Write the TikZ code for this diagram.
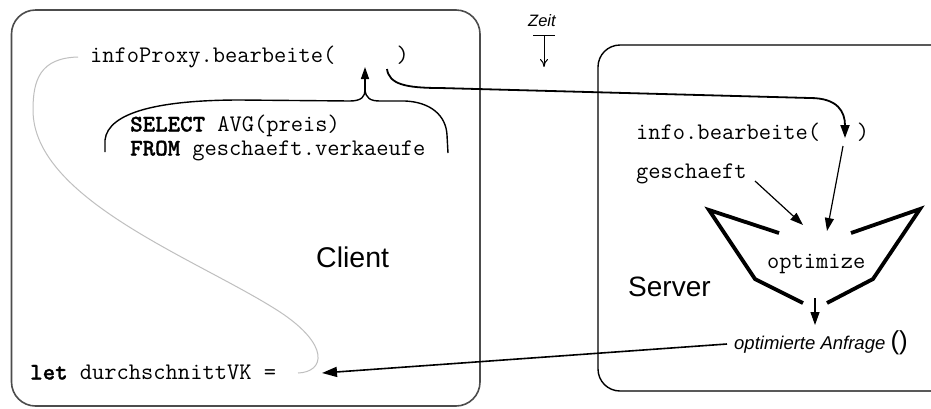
\documentclass[tikz,border=0pt]{standalone}
\usepackage{fontspec}
\setmainfont{Liberation Sans}
\newfontfamily\keywfont[FakeBold=1.2]{lmmonolt10-bold.otf}
\newcommand\keyw[1]{{\keywfont #1}}
\usetikzlibrary{arrows.meta}

\begin{document}
\begin{tikzpicture}[x=1pt,y=-1pt,
  code/.style={font=\ttfamily\fontsize{23.8}{26}\selectfont, inner sep=0pt, anchor=base west},
  label/.style={inner sep=0pt, anchor=base west},
  clientbox/.style={draw=black!70, line width=1.6pt, rounded corners=24pt},
  serverbox/.style={draw=black, line width=1.4pt, rounded corners=22pt},
  callarrow/.style={line width=1.8pt, -{Triangle[length=13pt,width=9pt]}},
  feedarrow/.style={line width=1.2pt, -{Triangle[length=13pt,width=9pt]}},
  bracepart/.style={line width=1.4pt},
  funnel/.style={line width=3.8pt, line join=miter},
  flow/.style={draw=black!25, line width=1pt}]

\useasboundingbox (0,0) rectangle (931,408);
\clip (0,0) rectangle (931,408);
\fill[white] (0,0) rectangle (931,408);

% the two hosts
\draw[clientbox] (11.5,10) rectangle (480,406);
\draw[serverbox] (598,45) rectangle (955,391);

% time axis marker
\node[label, font=\itshape\fontsize{16.5}{18}\selectfont] (zeit) at (528,26.5) {Zeit};
\coordinate (zbar) at (544,35);
\coordinate (zend) at (544,67);
\draw[line width=1pt] (533,35) -- (555,35);
\draw[line width=1pt, -{To[length=8pt,width=8pt]}] (zbar) -- (zend);

% client side
\node[code] (proxy) at (90,62) {infoProxy.bearbeite(\ \ \ \ \ )};
\node[code] (sel) at (130,131.5) {\keyw{SELECT} AVG(preis)};
\node[code] (from) at (130,155.5) {\keyw{FROM} geschaeft.verkaeufe};
\node[code] (let) at (30,379.5) {\keyw{let} durchschnittVK =};
\node[label, font=\fontsize{28.5}{30}\selectfont] (client) at (316,267.5) {Client};

% server side
\node[code] (info) at (636,139) {info.bearbeite(\ \ \ )};
\node[code] (gesch) at (636,178.5) {geschaeft};
\node[code] (opt) at (767,268) {optimize};
\node[label, font=\fontsize{28}{30}\selectfont] (server) at (628,296) {Server};
\node[label, font=\fontsize{18.5}{20}\selectfont] (result) at (734,349)
  {\textit{optimierte Anfrage} {\fontsize{26}{26}\selectfont()}};

% anchor points for the connectors
\coordinate (argslot) at (365,67);
\coordinate (bracestem) at (365,90);
\coordinate (callstart) at (387,69);
\coordinate (infoslot) at (845,138);
\coordinate (infoout) at (843,146);
\coordinate (optin) at (827,231);
\coordinate (geschout) at (755,181);
\coordinate (geschin) at (803,225);
\coordinate (optout) at (815,298);
\coordinate (resultin) at (815,325);
\coordinate (resultout) at (727,344);
\coordinate (letin) at (322,373);
\coordinate (flowstart) at (78,57);
\coordinate (flowend) at (298,373);

% brace gathering the query into the argument slot
\draw[bracepart] (105,152) -- (105,140)
  .. controls (108,112) and (160,100) .. (240,100) -- (350,101)
  .. controls (362,101) and (365,96) .. (bracestem);
\draw[bracepart] (bracestem)
  .. controls (366,98) and (370,101) .. (380,101) -- (405,101)
  .. controls (430,102) and (446,115) .. (447,135) -- (448,153);
\draw[bracepart, -{Triangle[length=12pt,width=8pt]}] (bracestem) -- (argslot);

% remote call from the proxy to the server object
\draw[callarrow] (callstart)
  .. controls (389,84) and (405,88) .. (440,88) -- (810,98)
  .. controls (838,98) and (845,112) .. (infoslot);

% inputs of the optimizer
\draw[feedarrow] (infoout) -- (optin);
\draw[feedarrow] (geschout) -- (geschin);

% optimizer funnel
\draw[funnel] (779,233) -- (709,210) -- (755,279) -- (803,303);
\draw[funnel] (851,233) -- (920,209) -- (873,279) -- (827,303);
\draw[feedarrow] (optout) -- (resultin);

% result returned to the client
\draw[callarrow, line width=1.6pt, -{Triangle[length=15pt,width=10pt]}] (resultout) -- (letin);

% control flow on the client
\draw[flow] (flowstart) .. controls (40,58) and (33,80) .. (33,110)
  .. controls (33,200) and (200,260) .. (280,312)
  .. controls (330,345) and (325,372) .. (flowend);

\end{tikzpicture}
\end{document}
